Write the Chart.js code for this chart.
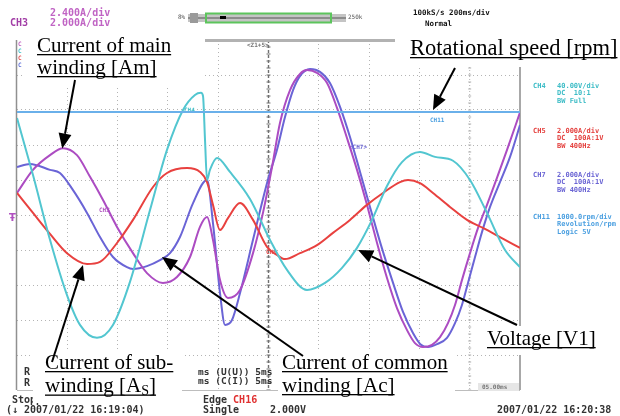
<!DOCTYPE html>
<html><head><meta charset="utf-8">
<script src="https://cdn.jsdelivr.net/npm/chart.js@4.4.1/dist/chart.umd.min.js"></script>
<style>html,body{margin:0;padding:0;background:#fff;}canvas{display:block;}</style>
</head><body>
<canvas id="c" width="620" height="416"></canvas>
<script>
// ---- data (time in ms, 5 ms/div; amplitude in divisions from screen centre) ----
const speedT = [0, 50];
const speedDiv = [2.94, 2.94];

const voltT = [0,1.59,3.28,4.97,6.26,7.95,9.54,11.23,13.22,14.91,16.50,17.69,18.29,18.49,18.69,18.89,19.18,19.88,21.17,23.16,25.15,26.84,28.83,30.62,32.31,33.80,35.29,36.78,38.27,40.06,41.55,43.34,45.03,46.72,48.51,50];
const voltDiv = [2.77,1.14,-0.71,-2.29,-3.14,-3.51,-3.14,-1.91,0.14,1.86,3.00,3.43,3.49,3.40,2.14,1.00,1.29,1.63,1.23,0.46,-0.71,-1.57,-2.14,-1.94,-1.51,-0.94,-0.14,0.83,1.51,1.80,1.66,1.55,1.00,0.06,-1.00,-1.49];

const subT = [0,1.59,3.28,4.97,6.96,8.25,9.94,11.53,13.52,14.91,16.90,18.19,18.89,19.48,20.18,20.97,22.17,23.46,24.85,25.84,26.64,28.13,29.82,31.41,33.10,34.79,36.38,38.07,38.87,40.06,41.35,43.04,44.73,46.32,48.01,50];
const subDiv = [0.63,0.06,-0.54,-1.09,-1.40,-1.34,-0.80,-0.14,0.80,1.20,1.34,1.23,0.94,0.29,-0.43,-0.09,0.34,-0.14,-0.91,-1.14,-1.26,-1.09,-0.86,-0.51,-0.14,0.29,0.63,0.94,1.00,0.91,0.63,0.23,-0.14,-0.37,-0.63,-0.94];

const mainT = [0,1.59,3.28,4.57,5.96,7.26,8.55,9.94,11.53,12.92,14.51,15.90,17.20,18.19,18.89,19.48,20.18,20.97,22.17,23.46,24.45,25.35,26.14,27.14,28.13,28.83,29.82,30.82,31.81,32.80,33.80,34.79,35.79,36.78,37.77,38.77,39.56,40.36,41.25,42.05,42.84,43.54,44.23,45.03,45.83,46.72,47.71,48.71,50];
const mainDiv = [0.63,1.29,1.71,1.91,1.71,1.09,0.43,-0.34,-1.09,-1.66,-1.94,-1.77,-1.20,-0.34,-0.06,-0.71,-1.86,-2.37,-2.14,-1.09,0.06,1.37,2.63,3.57,4.03,4.14,4.06,3.77,3.06,2.20,1.29,0.29,-0.80,-1.80,-2.66,-3.29,-3.66,-3.77,-3.71,-3.49,-3.09,-2.57,-1.86,-1.09,-0.37,0.29,1.06,1.86,2.93];

const comT = [0,1.29,3.28,4.27,5.57,6.96,8.25,9.54,10.93,11.53,12.92,14.21,15.21,16.20,17.50,18.89,19.48,20.18,20.68,21.37,22.17,23.46,24.85,25.84,26.64,27.44,28.13,29.13,30.12,31.11,32.11,33.10,34.10,35.09,36.18,37.38,38.37,39.36,40.16,40.85,41.75,42.74,43.54,44.23,44.83,45.53,46.22,47.02,48.01,49.01,50];
const comDiv = [1.37,1.46,1.29,1.20,0.71,0.06,-0.63,-1.20,-1.49,-1.54,-1.46,-1.29,-1.09,-0.63,0.34,1.00,-0.23,-2.23,-3.14,-3.00,-2.23,-0.71,0.91,1.86,2.80,3.57,3.97,4.17,4.09,3.77,3.09,2.23,1.23,0.23,-0.86,-1.94,-2.77,-3.37,-3.71,-3.77,-3.69,-3.51,-3.09,-2.57,-1.94,-1.20,-0.49,0.23,0.94,1.66,2.57];

// arrow tips of the callouts (in data units): main, speed, sub, common, voltage
const tipT = [4.50, 41.35, 6.56, 14.41, 33.90];
const tipV = [1.90, 3.00, -1.43, -1.20, -1.00];

function pts(T, V){ return T.map((t,i)=>({x:t, y:V[i]})); }

const MONO = '"DejaVu Sans Mono", monospace';
const SERIF = '"Liberation Serif", "Times New Roman", serif';

function txt(c, s, x, y, color, font){
  c.fillStyle = color; c.font = font; c.textAlign = 'left'; c.textBaseline = 'middle'; c.fillText(s, x, y);
  return c.measureText(s).width;
}
function seg(c, x0, y0, x1, y1){ c.beginPath(); c.moveTo(x0, y0); c.lineTo(x1, y1); c.stroke(); }
function under(c, s, x, y, size){
  c.font = size + 'px ' + SERIF; c.fillStyle = '#000'; c.textAlign = 'left'; c.textBaseline = 'alphabetic';
  c.fillText(s, x, y); const w = c.measureText(s).width; c.fillRect(x, y + 2, w, 1.3); return w;
}
function arrow(c, x0, y0, x1, y1){
  const a = Math.atan2(y1 - y0, x1 - x0), L = 15, W = 6.5;
  const bx = x1 - L * Math.cos(a), by = y1 - L * Math.sin(a);
  c.strokeStyle = '#000'; c.fillStyle = '#000'; c.lineWidth = 2; c.setLineDash([]);
  seg(c, x0, y0, bx, by);
  c.beginPath(); c.moveTo(x1, y1);
  c.lineTo(bx + W * Math.sin(a), by - W * Math.cos(a));
  c.lineTo(bx - W * Math.sin(a), by + W * Math.cos(a));
  c.closePath(); c.fill();
}

const scopePlugin = {
  id: 'scope',
  beforeDatasetsDraw(chart){
    const c = chart.ctx, xs = chart.scales.x, ys = chart.scales.y;
    const L = xs.getPixelForValue(0), R = xs.getPixelForValue(50);
    const T = ys.getPixelForValue(5), B = ys.getPixelForValue(-5);
    const minor = (B - T) / 50;
    c.save();
    // centre vertical line (dark dashed) and ticked cursor line
    const xc = xs.getPixelForValue(25), x45 = xs.getPixelForValue(45);
    c.strokeStyle = '#707070'; c.lineWidth = 1.4; c.setLineDash([3, 2]); seg(c, xc, T, xc, B);
    c.setLineDash([]); c.lineWidth = 1;
    for (let y = T; y <= B + 0.1; y += minor) seg(c, xc - 2, y, xc + 2, y);
    c.strokeStyle = '#b0b0b0'; c.setLineDash([1, 2]); seg(c, x45, T, x45, B);
    c.setLineDash([]);
    for (let y = T; y <= B + 0.1; y += minor) seg(c, x45 - 1.5, y, x45 + 1.5, y);
    // borders
    c.strokeStyle = '#909090'; c.lineWidth = 1.5; seg(c, L - 0.5, T, L - 0.5, B);
    c.strokeStyle = '#a8a8a8'; c.lineWidth = 2; seg(c, R, T, R, B);
    c.strokeStyle = '#bdbdbd'; c.lineWidth = 1; seg(c, L, B + 0.5, R, B + 0.5);
    c.fillStyle = '#b2b2b2'; c.fillRect(205, T - 1, 190, 3);

    // ---- oscilloscope screen texts ----
    txt(c, '2.400A/div', 50, 13, '#c064c4', 'bold 10px ' + MONO);
    txt(c, 'CH3', 10, 23, '#a23ea6', 'bold 10px ' + MONO);
    txt(c, '2.000A/div', 50, 23, '#c064c4', 'bold 10px ' + MONO);
    // scroll bar
    c.fillStyle = '#c4c4c4'; c.fillRect(188, 14, 158, 8);
    c.fillStyle = '#8c8c8c'; c.fillRect(188, 17, 158, 2);
    c.fillStyle = '#9a9a9a'; c.fillRect(190, 13, 8, 10);
    c.strokeStyle = '#5cc45c'; c.lineWidth = 2; c.strokeRect(206, 13.5, 125, 9);
    c.fillStyle = '#000'; c.fillRect(220, 16, 6, 3);
    txt(c, '8%', 178, 17, '#555', '6px ' + MONO);
    txt(c, '250k', 348, 17, '#555', '6px ' + MONO);
    txt(c, '100kS/s 200ms/div', 413, 13, '#111', 'bold 7.5px ' + MONO);
    txt(c, 'Normal', 425, 24, '#111', 'bold 7.5px ' + MONO);
    // channel marks at the left
    const mk = ['#c060c0', '#40c0c8', '#e05050', '#6070d8'];
    mk.forEach((col, i) => txt(c, 'C', 18, 44 + i * 7, col, 'bold 6px ' + MONO));
    txt(c, 'Ŧ', 9, 218, '#b050c0', 'bold 10px "DejaVu Sans"');
    // right panel
    const P = 'bold 7px ' + MONO;
    const panel = [
      ['#3cbcc6', 86, 'CH4', ['40.00V/div', 'DC  10:1', 'BW Full']],
      ['#e4403e', 131, 'CH5', ['2.000A/div', 'DC  100A:1V', 'BW 400Hz']],
      ['#6a64d4', 175, 'CH7', ['2.000A/div', 'DC  100A:1V', 'BW 400Hz']],
      ['#4a9fe0', 217, 'CH11', ['1000.0rpm/div', 'Revolution/rpm', 'Logic 5V']]
    ];
    panel.forEach(([col, y, ch, lines]) => {
      txt(c, ch, 533, y, col, P);
      lines.forEach((s, i) => txt(c, s, 557, y + i * 7.6, col, P));
    });
    // trace labels on screen
    txt(c, 'CH3', 99, 210, '#b050c0', 'bold 6px ' + MONO);
    txt(c, 'CH5', 266, 252, '#e4403e', 'bold 6px ' + MONO);
    txt(c, '<CH7>', 349, 147, '#6a64d4', 'bold 6px ' + MONO);
    txt(c, 'CH11', 430, 120, '#4a9fe0', 'bold 6px ' + MONO);
    txt(c, 'CH4', 184, 110, '#40c0c8', 'bold 6px ' + MONO);
    txt(c, '<Z1+5>', 247, 45, '#777', 'bold 6px ' + MONO);
    // bottom info
    const Bf = 'bold 10px ' + MONO;
    txt(c, 'R', 24, 372, '#333', Bf);
    txt(c, 'R', 24, 383, '#333', Bf);
    txt(c, 'ms (U(U)) 5ms', 198, 373, '#333', 'bold 9.5px ' + MONO);
    txt(c, 'ms (C(I)) 5ms', 198, 382, '#333', 'bold 9.5px ' + MONO);
    c.fillStyle = '#e6e6e6'; c.fillRect(478, 383, 41, 8);
    txt(c, '05.00ms', 482, 387, '#777', 'bold 6px ' + MONO);
    txt(c, 'Stopped', 12, 400, '#333', Bf);
    txt(c, '(\u2193 2007/01/22 16:19:04)', 6, 410, '#333', Bf);
    const w = txt(c, 'Edge ', 203, 400, '#333', Bf);
    txt(c, 'CH16', 203 + w, 400, '#e03030', Bf);
    txt(c, 'Single', 203, 410, '#333', Bf);
    txt(c, '2.000V', 270, 410, '#333', Bf);
    txt(c, '2007/01/22 16:20:38', 497, 410, '#333', Bf);

    // white boxes behind the callout texts
    c.fillStyle = '#fff';
    [[25, 28, 178, 60], [398, 28, 222, 39], [483, 326, 123, 29], [33, 350, 149, 53], [278, 350, 177, 53]]
      .forEach(b => c.fillRect(b[0], b[1], b[2], b[3]));
    c.restore();
  },
  afterDatasetsDraw(chart){
    const c = chart.ctx, xs = chart.scales.x, ys = chart.scales.y;
    c.save();
    const S = 21;
    under(c, 'Current of main', 37, 52, S);
    under(c, 'winding [Am]', 37, 74, S);
    under(c, 'Rotational speed [rpm]', 410, 55, 22.5);
    under(c, 'Voltage [V1]', 487, 345, S);
    under(c, 'Current of sub-', 45, 369, S);
    // winding [As] with subscript
    c.font = S + 'px ' + SERIF; c.fillStyle = '#000'; c.textBaseline = 'alphabetic';
    let x = 45, y = 392;
    c.fillText('winding [A', x, y); let w1 = c.measureText('winding [A').width;
    c.font = '14px ' + SERIF; c.fillText('S', x + w1, y + 3); let w2 = c.measureText('S').width;
    c.font = S + 'px ' + SERIF; c.fillText(']', x + w1 + w2, y); let w3 = c.measureText(']').width;
    c.fillRect(x, y + 2.5, w1 + w2 + w3, 1.3);
    under(c, 'Current of common', 282, 369, S);
    under(c, 'winding [Ac]', 282, 392, S);
    // arrows
    const tails = [[75, 80], [455, 68], [52, 362], [303, 356], [517, 325]];
    tails.forEach((tl, i) => arrow(c, tl[0], tl[1], xs.getPixelForValue(tipT[i]), ys.getPixelForValue(tipV[i])));
    c.restore();
  }
};

const hideX = [0, 25, 45, 50], hideY = [-5, 5];
new Chart(document.getElementById('c'), {
  type: 'line',
  data: { datasets: [
    { label: 'Rotational speed [rpm]', data: pts(speedT, speedDiv), borderColor: '#6ab0ea', borderWidth: 2, pointRadius: 0, tension: 0 },
    { label: 'Voltage [V1]', data: pts(voltT, voltDiv), borderColor: '#52c6d0', borderWidth: 2, pointRadius: 0, cubicInterpolationMode: 'monotone' },
    { label: 'Current of sub-winding [As]', data: pts(subT, subDiv), borderColor: '#e8413f', borderWidth: 2, pointRadius: 0, cubicInterpolationMode: 'monotone' },
    { label: 'Current of main winding [Am]', data: pts(mainT, mainDiv), borderColor: '#ac4cc2', borderWidth: 2, pointRadius: 0, cubicInterpolationMode: 'monotone' },
    { label: 'Current of common winding [Ac]', data: pts(comT, comDiv), borderColor: '#6a64d6', borderWidth: 2, pointRadius: 0, cubicInterpolationMode: 'monotone' }
  ]},
  options: {
    responsive: false, animation: false, devicePixelRatio: 1,
    layout: { padding: { left: 17, right: 100, top: 40, bottom: 26 } },
    plugins: { legend: { display: false }, tooltip: { enabled: false } },
    scales: {
      x: { type: 'linear', min: 0, max: 50,
           ticks: { display: false, stepSize: 5 },
           grid: { drawTicks: false, lineWidth: 1, color: ctx => hideX.includes(ctx.tick && ctx.tick.value) ? 'rgba(0,0,0,0)' : '#b4b4b4' },
           border: { display: false, dash: [1, 3] } },
      y: { type: 'linear', min: -5, max: 5,
           ticks: { display: false, stepSize: 1 },
           grid: { drawTicks: false, lineWidth: 1, color: ctx => hideY.includes(ctx.tick && ctx.tick.value) ? 'rgba(0,0,0,0)' : '#b4b4b4' },
           border: { display: false, dash: [1, 3] } }
    }
  },
  plugins: [scopePlugin]
});
</script>
</body></html>
